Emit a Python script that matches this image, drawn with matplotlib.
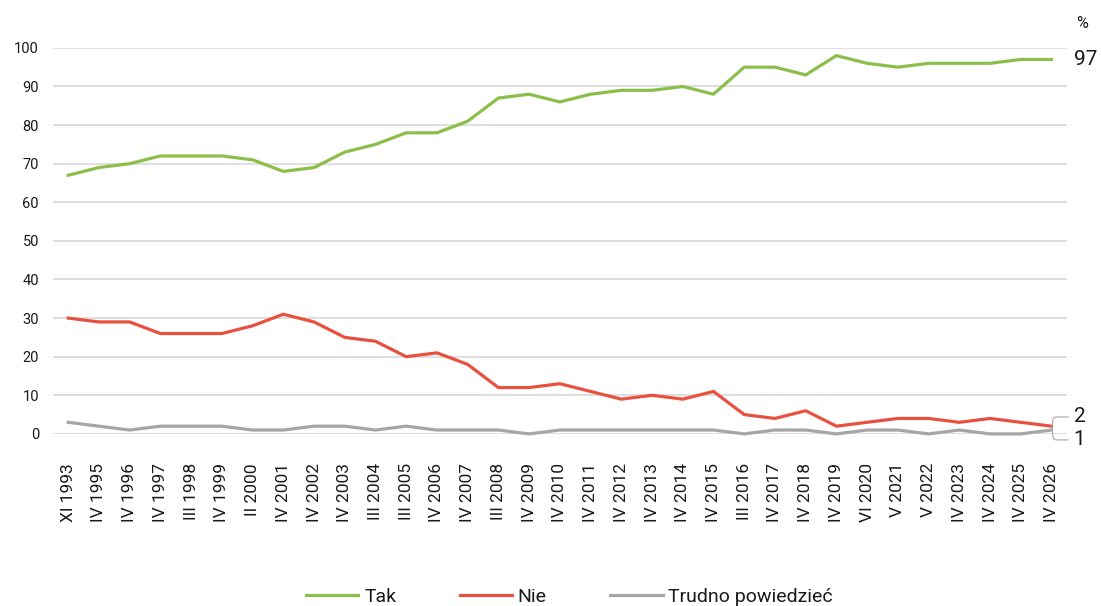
import matplotlib.pyplot as plt
import numpy as np

plt.rcParams['font.family'] = ['Roboto', 'DejaVu Sans']

# Dane
labels = ['XI 1993', 'IV 1995', 'IV 1996', 'IV 1997', 'III 1998', 'IV 1999', 'II 2000',
          'IV 2001', 'IV 2002', 'IV 2003', 'III 2004', 'III 2005', 'IV 2006', 'IV 2007',
          'III 2008', 'IV 2009', 'IV 2010', 'IV 2011', 'IV 2012', 'IV 2013', 'IV 2014',
          'IV 2015', 'III 2016', 'IV 2017', 'IV 2018', 'IV 2019', 'VI 2020', 'V 2021',
          'V 2022', 'IV 2023', 'IV 2024', 'IV 2025', 'IV 2026']
tak = [67, 69, 70, 72, 72, 72, 71, 68, 69, 73, 75, 78, 78, 81, 87, 88, 86, 88, 89, 89,
       90, 88, 95, 95, 93, 98, 96, 95, 96, 96, 96, 97, 97]
nie = [30, 29, 29, 26, 26, 26, 28, 31, 29, 25, 24, 20, 21, 18, 12, 12, 13, 11, 9, 10,
       9, 11, 5, 4, 6, 2, 3, 4, 4, 3, 4, 3, 2]
trudno = [3, 2, 1, 2, 2, 2, 1, 1, 2, 2, 1, 2, 1, 1, 1, 0, 1, 1, 1, 1,
          1, 1, 0, 1, 1, 0, 1, 1, 0, 1, 0, 0, 1]

green = '#8BBF4A'
red = '#E8503F'
gray = '#A6A6A6'
txt = '#1a1a1a'

fig = plt.figure(figsize=(11.01, 6.06), dpi=100)
ax = fig.add_axes([0.048, 0.284, 0.921, 0.637])

x = np.arange(len(labels))
ax.plot(x, tak, color=green, linewidth=2.3, label='Tak', clip_on=False, zorder=3)
ax.plot(x, nie, color=red, linewidth=2.3, label='Nie', clip_on=False, zorder=3)
ax.plot(x, trudno, color=gray, linewidth=2.3, label='Trudno powiedzieć', clip_on=False, zorder=3)

ax.set_xlim(-0.5, len(labels) - 0.5)
ax.set_ylim(0, 100)
ax.set_yticks(range(0, 101, 10))
ax.set_xticks(x)
ax.set_xticklabels(labels, rotation=90, fontsize=12.5, color=txt)
ax.tick_params(axis='y', labelsize=10.5, colors=txt, length=0, pad=10)
ax.tick_params(axis='x', length=0, pad=21)
ax.grid(axis='y', color='#d9d9d9', linewidth=1.2)
ax.set_axisbelow(True)
for s in ax.spines.values():
    s.set_visible(False)

# Etykiety końcowe
last = len(labels) - 1
ax.annotate('%', xy=(1.0, 1.0), xycoords='axes fraction', xytext=(7, 12),
            textcoords='offset points', fontsize=11.5, color=txt, ha='left', va='bottom')
ax.annotate(str(tak[-1]), xy=(last, tak[-1]), xytext=(16, 0), textcoords='offset points',
            fontsize=15, color=txt, ha='left', va='center', annotation_clip=False)
mid = (nie[-1] + trudno[-1]) / 2
ax.annotate(str(nie[-1]), xy=(last, mid), xytext=(16, 8),
            textcoords='offset points', fontsize=15, color=txt, ha='left', va='center',
            annotation_clip=False,
            arrowprops=dict(arrowstyle='-', color=gray, lw=0.8, shrinkA=2, shrinkB=0,
                            connectionstyle='angle,angleA=0,angleB=80,rad=3'))
ax.annotate(str(trudno[-1]), xy=(last, mid), xytext=(16, -8.5),
            textcoords='offset points', fontsize=15, color=txt, ha='left', va='center',
            annotation_clip=False,
            arrowprops=dict(arrowstyle='-', color=gray, lw=0.8, shrinkA=2, shrinkB=0,
                            connectionstyle='angle,angleA=0,angleB=-80,rad=3'))

fig.legend(loc='center', bbox_to_anchor=(0.5 + 19 / 1101, 1 - 597 / 606), ncol=3,
           frameon=False, fontsize=14, handlelength=2.7, columnspacing=3.25,
           handletextpad=0.3, labelcolor=txt)

fig.savefig('out.png', dpi=100)
